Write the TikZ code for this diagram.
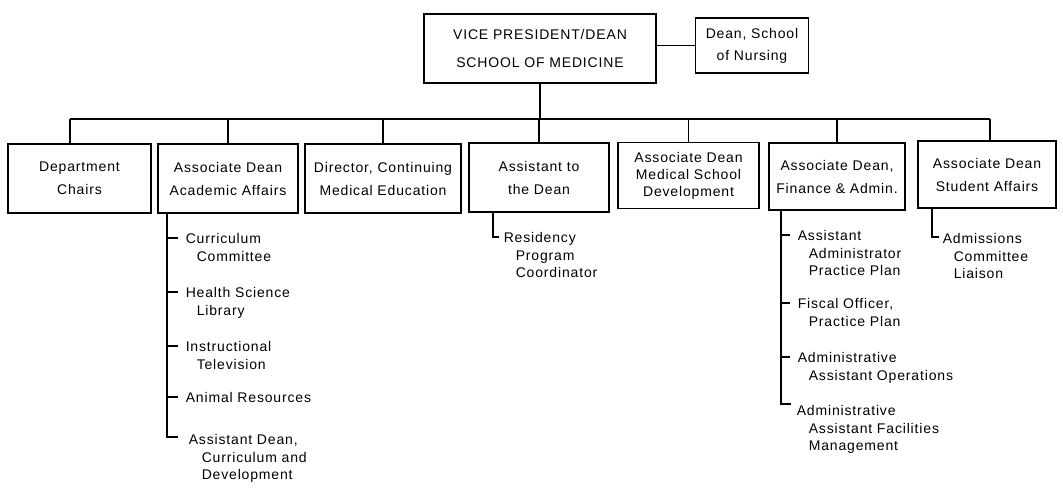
\documentclass[tikz,border=0pt]{standalone}
\usepackage{fontspec}
\setmainfont[LetterSpace=6]{Liberation Sans}
\usetikzlibrary{calc}

\begin{document}
\begin{tikzpicture}[x=1pt,y=-1pt,line width=1.5pt,
  unit/.style={draw,align=center,inner sep=0pt,font=\fontsize{14}{17}\selectfont},
  sub/.style={anchor=north west,align=left,inner sep=0pt,font=\fontsize{14}{17.5}\selectfont}]
\useasboundingbox (0,0) rectangle (1063,490);

\node[unit,minimum width=232pt,minimum height=69pt] (vp) at (540,48.5) {VICE PRESIDENT/DEAN\\[11pt]SCHOOL OF MEDICINE};
\node[unit,minimum width=113pt,minimum height=55pt] (nursing) at (752,45.5) {Dean, School\\[5pt]of Nursing};

\node[unit,minimum width=143pt,minimum height=69pt] (chairs) at (79.5,178.5) {Department\\[6pt]Chairs};
\node[unit,minimum width=140pt,minimum height=69pt] (acad) at (228,178.5) {Associate Dean\\[6pt]Academic Affairs};
\node[unit,minimum width=156pt,minimum height=69pt] (cme) at (383,178.5) {Director, Continuing\\[6pt]Medical Education};
\node[unit,minimum width=140pt,minimum height=69pt] (asst) at (539,177.5) {Assistant to\\[6pt]the Dean};
\node[unit,minimum width=141pt,minimum height=66pt] (devel) at (688.5,175.5) {Associate Dean\\Medical School\\Development};
\node[unit,minimum width=136pt,minimum height=67pt] (fin) at (837,176.5) {Associate Dean,\\[6pt]Finance \& Admin.};
\node[unit,minimum width=138pt,minimum height=67pt] (stud) at (987,174.5) {Associate Dean\\[6pt]Student Affairs};

\coordinate (busl) at (70,119);
\coordinate (busr) at (990,119);
\draw (busl) -- (busr);
\draw (vp.south) -- (vp.south |- busl);
\draw (vp.east |- nursing.west) -- (nursing.west);
\draw (busl) -- (busl |- chairs.north);
\foreach \n in {acad,cme,asst,devel,fin}
  \draw (\n.north) -- (\n.north |- busl);
\draw (busr) -- (busr |- stud.north);

\coordinate (a1) at (167,238);
\coordinate (a2) at (167,292);
\coordinate (a3) at (167,346);
\coordinate (a4) at (167,397);
\coordinate (a5) at (167,437);
\draw (acad.south -| a1) -- (a5) -- ++(11,0);
\foreach \c in {a1,a2,a3,a4}
  \draw (\c) -- ++(11,0);
\node[sub] (cur) at ([xshift=18pt,yshift=5pt]a1) {Curriculum\\\hspace*{11pt}Committee};
\node[sub] (lib) at ([xshift=18pt,yshift=5pt]a2) {Health Science\\\hspace*{11pt}Library};
\node[sub] (tv) at ([xshift=18pt,yshift=5pt]a3) {Instructional\\\hspace*{11pt}Television};
\node[sub] (ani) at ([xshift=18pt,yshift=5pt]a4) {Animal Resources};
\node[sub] (adc) at ([xshift=21pt,yshift=3pt]a5) {Assistant Dean,\\\hspace*{13pt}Curriculum and\\\hspace*{13pt}Development};

\coordinate (r1) at (493,237);
\draw (asst.south -| r1) -- (r1) -- ++(6,0);
\node[sub] (res) at ([xshift=10pt,yshift=5pt]r1) {Residency\\\hspace*{12pt}Program\\\hspace*{12pt}Coordinator};

\coordinate (f1) at (781,235);
\coordinate (f2) at (781,303);
\coordinate (f3) at (781,357);
\coordinate (f4) at (781,404);
\draw (fin.south -| f1) -- (f4) -- ++(10,0);
\foreach \c in {f1,f2,f3}
  \draw (\c) -- ++(9,0);
\node[sub] (ppa) at ([xshift=16pt,yshift=5pt]f1) {Assistant\\\hspace*{11pt}Administrator\\\hspace*{11pt}Practice Plan};
\node[sub] (fis) at ([xshift=16pt,yshift=5pt]f2) {Fiscal Officer,\\\hspace*{11pt}Practice Plan};
\node[sub] (ops) at ([xshift=16pt,yshift=5pt]f3) {Administrative\\\hspace*{11pt}Assistant Operations};
\node[sub] (fac) at ([xshift=15pt,yshift=-1pt]f4) {Administrative\\\hspace*{12pt}Assistant Facilities\\\hspace*{12pt}Management};

\coordinate (s1) at (932,237);
\draw (stud.south -| s1) -- (s1) -- ++(7,0);
\node[sub] (adm) at ([xshift=10pt,yshift=4pt]s1) {Admissions\\\hspace*{11pt}Committee\\\hspace*{11pt}Liaison};
\end{tikzpicture}
\end{document}
